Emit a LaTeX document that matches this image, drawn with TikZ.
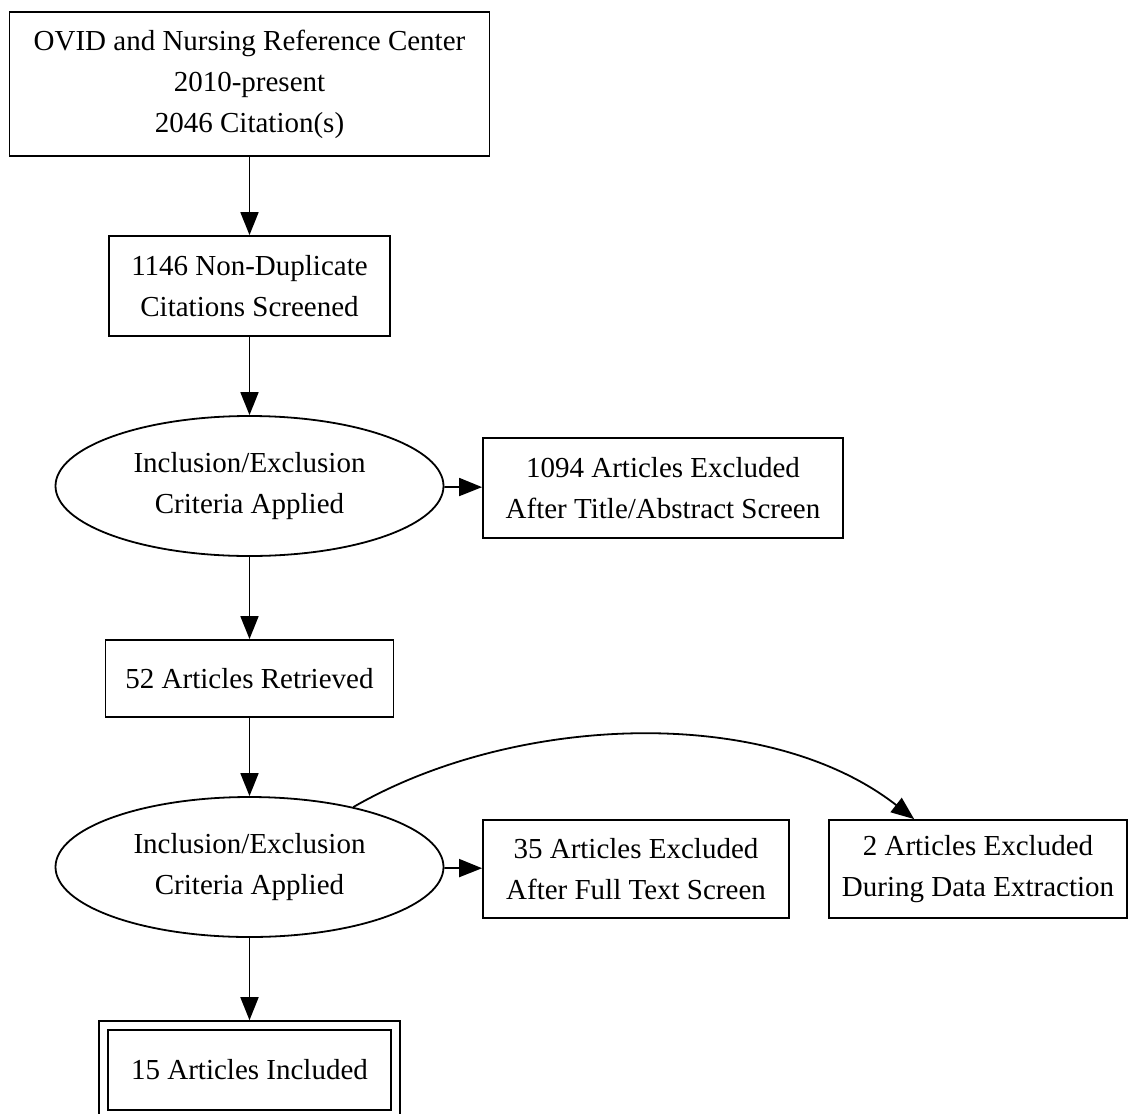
\documentclass[tikz,border=0pt]{standalone}
\usepackage{fontspec}
\setmainfont{Liberation Serif}
\usetikzlibrary{arrows.meta, shapes}

\begin{document}
\begin{tikzpicture}[->,>={Triangle[length=11.5pt,width=9pt]}, x=1pt, y=1pt, line width=0.9pt,
   every node/.style={font=\fontsize{14.5}{20.5}\selectfont, align=center, inner sep=0pt},
   box/.style={draw, rectangle},
   crit/.style={draw, ellipse, minimum width=194pt, minimum height=70pt},
   final/.style={draw, rectangle, double, double distance=3.5pt, outer sep=2.65pt}]

   \useasboundingbox (0,0) rectangle (569,-556.5);

   % Nodes
      \node[box, minimum width=240pt, minimum height=72pt]    (src)   at (124.75,-42)   {OVID and Nursing Reference Center\\2010-present\\2046 Citation(s)};
      \node[box, minimum width=140.5pt, minimum height=50pt]  (dedup) at (124.75,-143)  {1146 Non-Duplicate\\Citations Screened};
      \node[crit]                                             (crit1) at (124.75,-243)  {Inclusion/Exclusion\\Criteria Applied};
      \node[box, minimum width=180pt, minimum height=50pt]    (excl1) at (331.5,-244)   {1094 Articles Excluded\\After Title/Abstract Screen};
      \node[box, minimum width=144pt, minimum height=38.5pt]  (retr)  at (124.75,-339.25) {52 Articles Retrieved};
      \node[crit]                                             (crit2) at (124.75,-433.5) {Inclusion/Exclusion\\Criteria Applied};
      \node[box, minimum width=153pt, minimum height=49pt]    (excl2) at (318,-434.5)   {35 Articles Excluded\\After Full Text Screen};
      \node[box, minimum width=149pt, minimum height=49pt]    (excl3) at (489,-434.5)   {2 Articles Excluded\\During Data Extraction};
      \node[final, minimum width=146pt, minimum height=44.5pt] (incl) at (124.75,-535)  {15 Articles Included};

   % Paths
      \path (src)   edge (dedup);
      \path (dedup) edge (crit1);
      \path (crit1) edge (excl1)
                    edge (retr);
      \path (retr)  edge (crit2);
      \path (crit2) edge (excl2)
                    edge [out=30, in=142, looseness=0.85] (excl3)
                    edge (incl);
\end{tikzpicture}
\end{document}
